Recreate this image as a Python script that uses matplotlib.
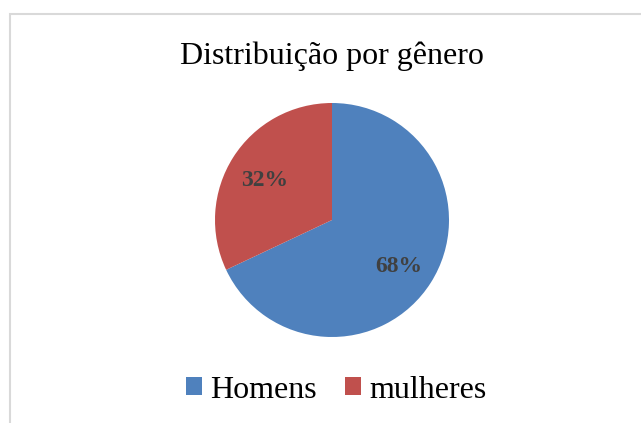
import matplotlib.pyplot as plt
from matplotlib.patches import Patch, Rectangle
from matplotlib.transforms import offset_copy

labels = ["Homens", "mulheres"]
shares = [68, 32]
colors = ["#4F81BD", "#C0504D"]
title = "Distribuição por gênero"

plt.rcParams["font.family"] = ["Liberation Serif", "DejaVu Serif"]

W, H = 641, 423
fig = plt.figure(figsize=(W / 100, H / 100), dpi=100)

# chart area border
fig.patches.append(Rectangle((10 / W, -0.1), 1.0, 1 - 14 / H + 0.1, transform=fig.transFigure,
                             fill=False, edgecolor="#d9d9d9", linewidth=1.5))

cx, cy, r = 332, 220, 117
ax = fig.add_axes([(cx - r) / W, (H - cy - r) / H, 2 * r / W, 2 * r / H])
wedges, _, autotexts = ax.pie(shares, colors=colors, startangle=90, counterclock=False,
                              autopct="%d%%", pctdistance=0.68,
                              wedgeprops={"linewidth": 0})
for t in autotexts:
    t.set_fontsize(17)
    t.set_fontweight("bold")
    t.set_color("#404040")
    t.set_transform(offset_copy(ax.transData, fig=fig, x=0, y=-3.5, units="dots"))
ax.set_xlim(-1, 1)
ax.set_ylim(-1, 1)
ax.set_aspect("equal")

fig.text(cx / W, 1 - 56 / H, title, ha="center", va="center", fontsize=23)

handles = [Patch(facecolor=c, label=l) for c, l in zip(colors, labels)]
fig.legend(handles=handles, loc="center", bbox_to_anchor=(336 / W, 1 - 390 / H), ncol=2,
           frameon=False, fontsize=23, handlelength=0.5, handleheight=0.5,
           handletextpad=0.25, columnspacing=0.9)

fig.savefig("out.png", dpi=100)
